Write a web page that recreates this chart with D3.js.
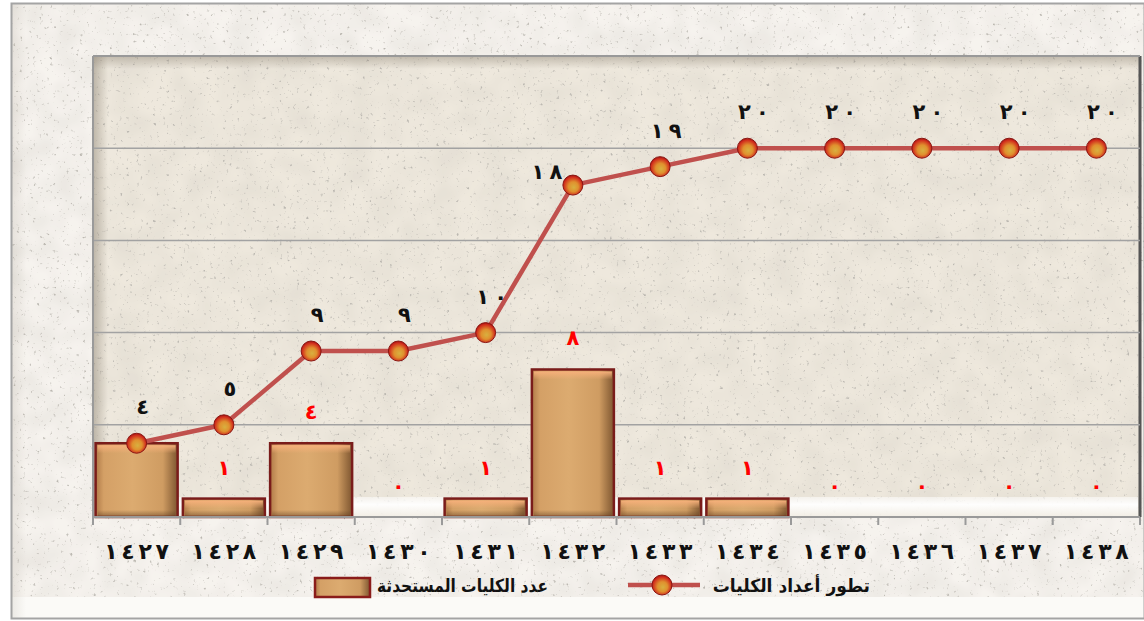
<!DOCTYPE html>
<html>
<head>
<meta charset="utf-8">
<script src="https://cdn.jsdelivr.net/npm/d3@7"></script>
<style>
  html, body { margin: 0; padding: 0; background: #ffffff; }
  svg { display: block; }
  .lbl { font-family: "DejaVu Sans", sans-serif; font-weight: bold; }
  .num { direction: ltr; unicode-bidi: bidi-override; }
</style>
</head>
<body>
<script>
// data
var years = ["١٤٢٧", "١٤٢٨", "١٤٢٩", "١٤٣٠", "١٤٣١", "١٤٣٢", "١٤٣٣", "١٤٣٤", "١٤٣٥", "١٤٣٦", "١٤٣٧", "١٤٣٨"];
var newColleges = [4, 1, 4, 0, 1, 8, 1, 1, 0, 0, 0, 0];      // عدد الكليات المستحدثة
var totalColleges = [4, 5, 9, 9, 10, 18, 19, 20, 20, 20, 20, 20]; // تطور أعداد الكليات
var yTicks = [0, 5, 10, 15, 20, 25];
var legendNames = ["تطور أعداد الكليات", "عدد الكليات المستحدثة"];

var W = 1144, H = 621;
var plot = { left: 93, top: 56, right: 1140, bottom: 517 };

// arabic digits, spaced out like the original
function ar(n) {
    return String(n).replace(/[0-9]/g, function (c) { return "٠١٢٣٤٥٦٧٨٩"[+c]; });
}
function spaced(s, sp) {
    // LRO ... PDF keeps the digit order left to right
    return "\u202D" + s.split("").join(sp || "\u2005") + "\u202C";
}

var svg = d3.select("body").append("svg")
    .attr("width", W)
    .attr("height", H);

var defs = svg.append("defs");

// stone texture: soft mottling + a few specks
var stone = defs.append("filter").attr("id", "stone").attr("x", 0).attr("y", 0).attr("width", 1).attr("height", 1);
stone.append("feTurbulence").attr("type", "fractalNoise").attr("baseFrequency", 0.035).attr("numOctaves", 2).attr("seed", 2).attr("result", "m");
stone.append("feColorMatrix").attr("in", "m").attr("type", "matrix")
    .attr("values", "0 0 0 0 0.6  0 0 0 0 0.57  0 0 0 0 0.52  0 0 0 0.5 -0.15").attr("result", "mott");
stone.append("feTurbulence").attr("type", "fractalNoise").attr("baseFrequency", 0.3).attr("numOctaves", 2).attr("seed", 9).attr("result", "n");
stone.append("feColorMatrix").attr("in", "n").attr("type", "matrix")
    .attr("values", "0 0 0 0 0.5  0 0 0 0 0.48  0 0 0 0 0.44  0 0 0 5 -3.3").attr("result", "spots");
stone.append("feMerge").call(function (m) {
    m.append("feMergeNode").attr("in", "SourceGraphic");
    m.append("feMergeNode").attr("in", "mott");
    m.append("feMergeNode").attr("in", "spots");
});

var wood = defs.append("linearGradient").attr("id", "wood").attr("x1", 0).attr("x2", 1).attr("y1", 0).attr("y2", 0);
wood.append("stop").attr("offset", "0%").attr("stop-color", "#b07a48");
wood.append("stop").attr("offset", "10%").attr("stop-color", "#d4a066");
wood.append("stop").attr("offset", "45%").attr("stop-color", "#dcab70");
wood.append("stop").attr("offset", "82%").attr("stop-color", "#cf9c62");
wood.append("stop").attr("offset", "100%").attr("stop-color", "#7e5630");

var woodTop = defs.append("linearGradient").attr("id", "woodTop").attr("x1", 0).attr("x2", 0).attr("y1", 0).attr("y2", 1);
woodTop.append("stop").attr("offset", "0%").attr("stop-color", "#f6b07a");
woodTop.append("stop").attr("offset", "100%").attr("stop-color", "#f6b07a").attr("stop-opacity", 0);

var woodBot = defs.append("linearGradient").attr("id", "woodBot").attr("x1", 0).attr("x2", 0).attr("y1", 0).attr("y2", 1);
woodBot.append("stop").attr("offset", "0%").attr("stop-color", "#5a3a1e").attr("stop-opacity", 0);
woodBot.append("stop").attr("offset", "100%").attr("stop-color", "#5a3a1e").attr("stop-opacity", 0.55);

var ball = defs.append("radialGradient").attr("id", "ball").attr("cx", "50%").attr("cy", "55%").attr("r", "55%").attr("fx", "55%").attr("fy", "62%");
ball.append("stop").attr("offset", "0%").attr("stop-color", "#d8b040");
ball.append("stop").attr("offset", "45%").attr("stop-color", "#e0902e");
ball.append("stop").attr("offset", "85%").attr("stop-color", "#d02a1c");
ball.append("stop").attr("offset", "100%").attr("stop-color", "#9a1410");

var shadeL = defs.append("linearGradient").attr("id", "shadeL").attr("x1", 0).attr("x2", 1);
shadeL.append("stop").attr("offset", "0%").attr("stop-color", "#8a8070").attr("stop-opacity", 0.45);
shadeL.append("stop").attr("offset", "100%").attr("stop-color", "#8a8070").attr("stop-opacity", 0);
var shadeT = defs.append("linearGradient").attr("id", "shadeT").attr("x1", 0).attr("x2", 0).attr("y1", 0).attr("y2", 1);
shadeT.append("stop").attr("offset", "0%").attr("stop-color", "#8a8070").attr("stop-opacity", 0.4);
shadeT.append("stop").attr("offset", "100%").attr("stop-color", "#8a8070").attr("stop-opacity", 0);
var floor = defs.append("linearGradient").attr("id", "floor").attr("x1", 0).attr("x2", 0).attr("y1", 0).attr("y2", 1);
floor.append("stop").attr("offset", "0%").attr("stop-color", "#ffffff").attr("stop-opacity", 0.5);
floor.append("stop").attr("offset", "40%").attr("stop-color", "#ffffff").attr("stop-opacity", 0.95);
floor.append("stop").attr("offset", "100%").attr("stop-color", "#f4f0e8").attr("stop-opacity", 0.9);

// outer frame
svg.append("rect").attr("x", 11).attr("y", 3).attr("width", W - 11).attr("height", 616)
    .attr("fill", "#f6f3ee").attr("filter", "url(#stone)");
svg.append("rect").attr("x", 12).attr("y", 597).attr("width", W - 12).attr("height", 21).attr("fill", "#fbfaf7");
svg.append("rect").attr("x", 12).attr("y", 4).attr("width", 14).attr("height", 614).attr("fill", "url(#shadeL)").attr("opacity", 0.3);
svg.append("rect").attr("x", 11.5).attr("y", 3.5).attr("width", W - 11).attr("height", 615)
    .attr("fill", "none").attr("stroke", "#a4a4a4").attr("stroke-width", 2);

// plot area
svg.append("rect").attr("x", plot.left).attr("y", plot.top).attr("width", plot.right - plot.left).attr("height", plot.bottom - plot.top)
    .attr("fill", "#eee8dd").attr("filter", "url(#stone)");
svg.append("rect").attr("x", plot.left + 1).attr("y", plot.top + 1).attr("width", 14).attr("height", plot.bottom - plot.top - 1).attr("fill", "url(#shadeL)");
svg.append("rect").attr("x", plot.left + 1).attr("y", plot.top + 1).attr("width", plot.right - plot.left - 1).attr("height", 12).attr("fill", "url(#shadeT)");
svg.append("rect").attr("x", plot.left + 2).attr("y", plot.bottom - 20).attr("width", plot.right - plot.left - 4).attr("height", 19).attr("fill", "url(#floor)");
svg.append("line").attr("x1", plot.right).attr("x2", plot.right).attr("y1", plot.top).attr("y2", plot.bottom)
    .attr("stroke", "#555").attr("stroke-width", 3);
svg.append("line").attr("x1", plot.left).attr("x2", plot.right).attr("y1", plot.top).attr("y2", plot.top)
    .attr("stroke", "#999").attr("stroke-width", 2);

var x = d3.scaleBand().domain(years).range([plot.left, plot.right]).paddingInner(0.06).paddingOuter(0.03);
var xTick = d3.scaleBand().domain(years).range([plot.left, plot.right]);
var y = d3.scaleLinear().domain([0, 25]).range([plot.bottom, plot.top]);

// gridlines
svg.append("g").selectAll("line").data(yTicks.slice(1, -1)).enter().append("line")
    .attr("x1", plot.left).attr("x2", plot.right)
    .attr("y1", function (d) { return y(d); }).attr("y2", function (d) { return y(d); })
    .attr("stroke", "#a2a2a2").attr("stroke-width", 1.5);

// left axis line
svg.append("line").attr("x1", plot.left).attr("x2", plot.left).attr("y1", plot.top).attr("y2", plot.bottom)
    .attr("stroke", "#9a9a9a").attr("stroke-width", 2);

// bars
newColleges.forEach(function (v, i) {
    if (v <= 0) return;
    var bx = x(years[i]), bw = x.bandwidth(), by = y(v), bh = y(0) - y(v);
    svg.append("rect").attr("x", bx).attr("y", by).attr("width", bw).attr("height", bh)
        .attr("fill", "url(#wood)");
    svg.append("rect").attr("x", bx + 2).attr("y", by + 2).attr("width", bw - 4).attr("height", Math.min(8, bh - 3))
        .attr("fill", "url(#woodTop)");
    svg.append("rect").attr("x", bx + 2).attr("y", by + bh - Math.min(7, bh / 2)).attr("width", bw - 4).attr("height", Math.min(7, bh / 2))
        .attr("fill", "url(#woodBot)");
    svg.append("rect").attr("x", bx).attr("y", by).attr("width", bw).attr("height", bh)
        .attr("fill", "none").attr("stroke", "#7a1c1a").attr("stroke-width", 2.5);
});

// x axis
var xAxis = svg.append("g").attr("transform", "translate(0," + plot.bottom + ")");
xAxis.append("line").attr("x1", plot.left).attr("x2", plot.right).attr("stroke", "#9a9a9a").attr("stroke-width", 2);
xAxis.selectAll("line.tk").data(years.concat(["end"])).enter().append("line").attr("class", "tk")
    .attr("x1", function (d) { return d === "end" ? plot.right : xTick(d); })
    .attr("x2", function (d) { return d === "end" ? plot.right : xTick(d); })
    .attr("y1", 0).attr("y2", 8).attr("stroke", "#9a9a9a").attr("stroke-width", 2);
xAxis.selectAll("text").data(years).enter().append("text").attr("class", "lbl num")
    .attr("x", function (d) { return xTick(d) + xTick.bandwidth() / 2; })
    .attr("y", 42)
    .attr("text-anchor", "middle")
    .attr("font-size", 22)
    .attr("fill", "#111")
    .text(function (d) { return spaced(d, "\u2006"); });

// line
var cx = function (i) { return x(years[i]) + x.bandwidth() / 2; };
var line = d3.line().x(function (d, i) { return cx(i); }).y(function (d) { return y(d); });
svg.append("path").datum(totalColleges).attr("d", line)
    .attr("fill", "none").attr("stroke", "#c0504d").attr("stroke-width", 4.5).attr("stroke-linejoin", "round");

svg.append("g").selectAll("circle").data(totalColleges).enter().append("circle")
    .attr("cx", function (d, i) { return cx(i); })
    .attr("cy", function (d) { return y(d); })
    .attr("r", 10)
    .attr("fill", "url(#ball)")
    .attr("stroke", "#8a1612").attr("stroke-width", 1);

// labels for line
svg.append("g").selectAll("text").data(totalColleges).enter().append("text").attr("class", "lbl num")
    .attr("x", function (d, i) { return cx(i) + (i === 5 ? -26 : 6); })
    .attr("y", function (d, i) { return y(d) - (i === 5 ? 6 : 29); })
    .attr("text-anchor", "middle")
    .attr("font-size", 21)
    .attr("fill", "#111")
    .text(function (d) { return spaced(ar(d)); });

// labels for bars (the first one sits under the line label in the original)
svg.append("g").selectAll("text").data(newColleges).enter().append("text").attr("class", "lbl")
    .filter(function (d, i) { return i > 0; })
    .attr("x", function (d, i) { return cx(i + 1); })
    .attr("y", function (d) { return y(d) - 24; })
    .attr("text-anchor", "middle")
    .attr("font-size", 21)
    .attr("fill", "#ff0000")
    .text(function (d) { return ar(d); });

// legend
var lg = svg.append("g");
lg.append("line").attr("x1", 628).attr("x2", 700).attr("y1", 585).attr("y2", 585)
    .attr("stroke", "#c0504d").attr("stroke-width", 4.5);
lg.append("circle").attr("cx", 662).attr("cy", 585).attr("r", 10)
    .attr("fill", "url(#ball)").attr("stroke", "#8a1612").attr("stroke-width", 1);
lg.append("text").attr("class", "lbl")
    .attr("transform", "translate(870,592) scale(0.95,1)")
    .attr("text-anchor", "end").attr("font-size", 18).attr("fill", "#111")
    .text(legendNames[0]);
lg.append("rect").attr("x", 315).attr("y", 578).attr("width", 55).attr("height", 19)
    .attr("fill", "url(#wood)").attr("stroke", "#8a1c1a").attr("stroke-width", 2.5);
lg.append("text").attr("class", "lbl")
    .attr("transform", "translate(548,592) scale(0.86,1)")
    .attr("text-anchor", "end").attr("font-size", 18).attr("fill", "#111")
    .text(legendNames[1]);
</script>
</body>
</html>
